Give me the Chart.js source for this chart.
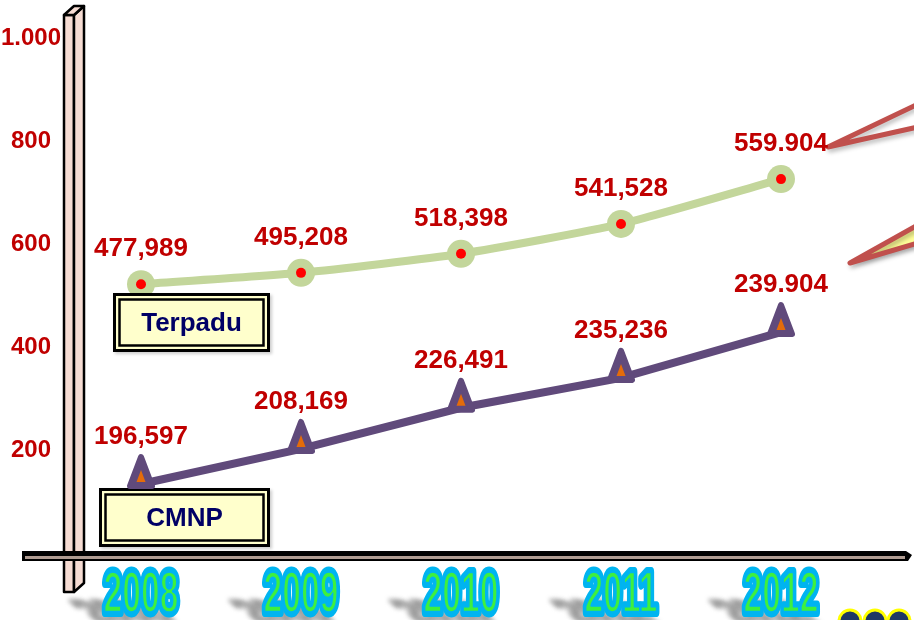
<!DOCTYPE html>
<html>
<head>
<meta charset="utf-8">
<script src="https://cdn.jsdelivr.net/npm/chart.js@4/dist/chart.umd.min.js"></script>
<style>
	html, body { margin: 0; padding: 0; background: #fff; }
	#chart { display: block; }
</style>
</head>
<body>
<canvas id="chart" width="914" height="620"></canvas>
<script>
const years = ["2008", "2009", "2010", "2011", "2012"];
const yTickLabels = ["", "200", "400", "600", "800", "1.000"];
const seriesNames = ["Terpadu", "CMNP"];

// Height of each point on the y axis, as it is drawn in the picture
const terpaduPlot = [522, 544, 581, 639, 726];
const cmnpPlot = [134, 202, 282, 340, 429];

// Values written above the points
const terpaduLabels = ["477,989", "495,208", "518,398", "541,528", "559.904"];
const cmnpLabels = ["196,597", "208,169", "226,491", "235,236", "239.904"];

const font = "'Liberation Sans', Arial, sans-serif";
const green = "#c3d69b";
const purple = "#604a7b";
const darkRed = "#c00000";

// 3D post on the left
function drawPillar(ctx) {
	ctx.save();
	ctx.fillStyle = "#f6dcd3";
	ctx.strokeStyle = "#000";
	ctx.lineWidth = 2.5;
	ctx.lineJoin = "round";
	const faces = [
		[[64, 15], [74, 15], [74, 592], [64, 592]],
		[[74, 15], [84, 6], [84, 583], [74, 592]],
		[[64, 15], [74, 6], [84, 6], [74, 15]],
	];
	faces.forEach((f) => {
		ctx.beginPath();
		f.forEach(([x, y], i) => (i ? ctx.lineTo(x, y) : ctx.moveTo(x, y)));
		ctx.closePath();
		ctx.fill();
		ctx.stroke();
	});
	ctx.restore();
}

// Flat bar under the chart
function drawBaseBar(ctx, y) {
	ctx.save();
	ctx.fillStyle = "#000";
	ctx.beginPath();
	ctx.moveTo(22, y - 2);
	ctx.lineTo(906, y - 2);
	ctx.lineTo(912, y + 2);
	ctx.lineTo(908, y + 8);
	ctx.lineTo(22, y + 8);
	ctx.closePath();
	ctx.fill();
	ctx.fillStyle = "#b09c92";
	ctx.fillRect(25, y + 3, 880, 3);
	ctx.restore();
}

// Red pointers coming in from the right edge
function drawWedges(ctx) {
	ctx.save();
	ctx.strokeStyle = "#c0504d";
	ctx.lineWidth = 5;
	ctx.lineJoin = "round";
	ctx.lineCap = "round";
	ctx.shadowColor = "rgba(0,0,0,0.25)";
	ctx.shadowBlur = 4;
	ctx.shadowOffsetX = 2;
	ctx.shadowOffsetY = 3;

	ctx.beginPath();
	ctx.moveTo(918, 104);
	ctx.lineTo(828, 147);
	ctx.lineTo(918, 127);
	ctx.stroke();

	ctx.beginPath();
	ctx.moveTo(918, 225);
	ctx.lineTo(850, 263);
	ctx.lineTo(918, 243);
	ctx.fillStyle = "#ffff99";
	ctx.fill();
	ctx.stroke();
	ctx.restore();

	// round markers peeking in at the bottom right
	ctx.save();
	ctx.fillStyle = "#1f3864";
	ctx.strokeStyle = "#ffff00";
	ctx.lineWidth = 3;
	[850, 875, 899].forEach((x) => {
		ctx.beginPath();
		ctx.arc(x, 621, 11, 0, Math.PI * 2);
		ctx.fill();
		ctx.stroke();
	});
	ctx.restore();
}

// Word-art style year labels under the axis
function drawYears(ctx, xScale) {
	years.forEach((year, i) => {
		const x = xScale.getPixelForTick(i);

		// flattened shadow
		ctx.save();
		ctx.filter = "blur(2px)";
		ctx.translate(x - 4, 621);
		ctx.transform(0.62, 0, 0.75, 0.5, 0, 0);
		ctx.font = `bold 58px ${font}`;
		ctx.textAlign = "center";
		ctx.fillStyle = "rgba(110,110,110,0.45)";
		ctx.strokeStyle = "rgba(110,110,110,0.45)";
		ctx.lineWidth = 10;
		ctx.strokeText(year, 0, 0);
		ctx.fillText(year, 0, 0);
		ctx.restore();

		ctx.save();
		ctx.translate(x, 612);
		ctx.scale(0.58, 1);
		ctx.font = `bold 58px ${font}`;
		ctx.textAlign = "center";
		ctx.lineJoin = "round";
		ctx.lineWidth = 10;
		ctx.strokeStyle = "#00b4f0";
		ctx.strokeText(year, 0, 0);
		ctx.fillStyle = "#3ef03e";
		ctx.fillText(year, 0, 0);
		ctx.lineWidth = 2.5;
		ctx.strokeStyle = "#00b4f0";
		ctx.strokeText(year, 0, 0);
		ctx.restore();
	});
}

// Name box with a double border
function drawNameBox(ctx, x, y, w, h, text) {
	ctx.save();
	ctx.shadowColor = "rgba(0,0,0,0.2)";
	ctx.shadowBlur = 3;
	ctx.shadowOffsetX = 2;
	ctx.shadowOffsetY = 2;
	ctx.fillStyle = "#ffffcc";
	ctx.fillRect(x, y, w, h);
	ctx.restore();

	ctx.save();
	ctx.strokeStyle = "#000";
	ctx.lineWidth = 3;
	ctx.strokeRect(x + 1.5, y + 1.5, w - 3, h - 3);
	ctx.lineWidth = 2.5;
	ctx.strokeRect(x + 6.5, y + 6.5, w - 13, h - 13);
	ctx.fillStyle = "#000066";
	ctx.font = `bold 26px ${font}`;
	ctx.textAlign = "center";
	ctx.textBaseline = "middle";
	ctx.fillText(text, x + w / 2, y + h / 2 + 1);
	ctx.restore();
}

function drawTriangle(ctx, x, y) {
	ctx.save();
	ctx.lineJoin = "round";
	ctx.fillStyle = purple;
	ctx.strokeStyle = purple;
	ctx.lineWidth = 6;
	ctx.beginPath();
	ctx.moveTo(x, y - 27);
	ctx.lineTo(x + 11, y + 2);
	ctx.lineTo(x - 11, y + 2);
	ctx.closePath();
	ctx.fill();
	ctx.stroke();

	ctx.fillStyle = "#e46c0a";
	ctx.beginPath();
	ctx.moveTo(x, y - 14);
	ctx.lineTo(x + 4.5, y - 2);
	ctx.lineTo(x - 4.5, y - 2);
	ctx.closePath();
	ctx.fill();
	ctx.restore();
}

function drawLabels(ctx, points, labels, dy) {
	ctx.save();
	ctx.font = `bold 26px ${font}`;
	ctx.fillStyle = darkRed;
	ctx.textAlign = "center";
	ctx.textBaseline = "middle";
	points.forEach((p, i) => ctx.fillText(labels[i], p.x, p.y + dy));
	ctx.restore();
}

const decorPlugin = {
	id: "decor",
	beforeDatasetsDraw(chart) {
		const ctx = chart.ctx;
		drawPillar(ctx);
		drawBaseBar(ctx, chart.chartArea.bottom);
		drawWedges(ctx);
		drawYears(ctx, chart.scales.x);
	},
	afterDatasetsDraw(chart) {
		const ctx = chart.ctx;
		const terpaduPts = chart.getDatasetMeta(0).data;
		const cmnpPts = chart.getDatasetMeta(1).data;

		drawNameBox(ctx, 113, 293, 157, 59, seriesNames[0]);
		drawNameBox(ctx, 99, 488, 171, 59, seriesNames[1]);

		cmnpPts.forEach((p) => drawTriangle(ctx, p.x, p.y));

		ctx.save();
		ctx.fillStyle = "#ff0000";
		terpaduPts.forEach((p) => {
			ctx.beginPath();
			ctx.arc(p.x, p.y, 5, 0, Math.PI * 2);
			ctx.fill();
		});
		ctx.restore();

		drawLabels(ctx, terpaduPts, terpaduLabels, -35);
		drawLabels(ctx, cmnpPts, cmnpLabels, -47);
	},
};

new Chart(document.getElementById("chart"), {
	type: "line",
	data: {
		labels: years,
		datasets: [
			{
				label: seriesNames[0],
				data: terpaduPlot,
				borderColor: green,
				borderWidth: 8,
				tension: 0.2,
				pointRadius: 14,
				pointBackgroundColor: green,
				pointBorderWidth: 0,
			},
			{
				label: seriesNames[1],
				data: cmnpPlot,
				borderColor: purple,
				borderWidth: 8,
				borderCapStyle: "round",
				tension: 0,
				pointRadius: 0,
			},
		],
	},
	options: {
		responsive: false,
		animation: false,
		devicePixelRatio: 1,
		layout: {
			padding: { top: 38, right: 53, left: 0, bottom: 0 },
		},
		plugins: {
			legend: { display: false },
			tooltip: { enabled: false },
		},
		scales: {
			x: {
				type: "category",
				offset: true,
				grid: { display: false, drawTicks: false },
				border: { display: false },
				ticks: { display: false },
				afterFit(scale) {
					scale.height = 67;
				},
			},
			y: {
				min: 0,
				max: 1000,
				grid: { display: false, drawTicks: false },
				border: { display: false },
				ticks: {
					stepSize: 200,
					padding: 0,
					crossAlign: "center",
					color: darkRed,
					font: { size: 24, weight: "bold", family: font },
					callback: (value, i) => yTickLabels[i],
				},
				afterFit(scale) {
					scale.width = 61;
				},
			},
		},
	},
	plugins: [decorPlugin],
});
</script>
</body>
</html>
